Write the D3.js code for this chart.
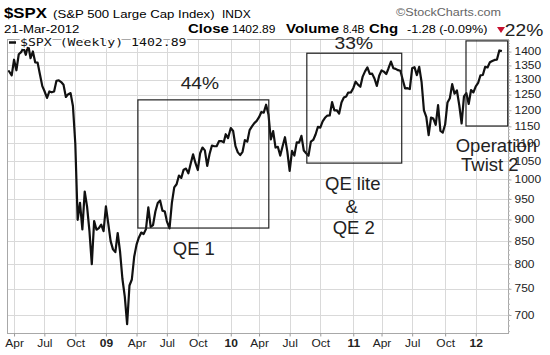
<!DOCTYPE html>
<html><head><meta charset="utf-8">
<script src="https://cdn.jsdelivr.net/npm/d3@7/dist/d3.min.js"></script>
<style>body{margin:0;background:#fff}svg{display:block}</style>
</head><body>
<svg id="chart" width="550" height="355"></svg>
<script>
// ---------- DATA ----------
const weeks2008 = ["2008-03-20","2008-03-28","2008-04-04","2008-04-11","2008-04-18","2008-04-25","2008-05-02","2008-05-09","2008-05-16","2008-05-23","2008-05-30","2008-06-06","2008-06-13","2008-06-20","2008-06-27","2008-07-03","2008-07-11","2008-07-18","2008-07-25","2008-08-01","2008-08-08","2008-08-15","2008-08-22","2008-08-29","2008-09-05","2008-09-12","2008-09-19","2008-09-26","2008-10-03","2008-10-10","2008-10-17","2008-10-24","2008-10-31","2008-11-07","2008-11-14","2008-11-21","2008-11-28","2008-12-05","2008-12-12","2008-12-19","2008-12-26"];
const closes2008 = [1329.51,1315.22,1370.40,1332.83,1390.33,1397.84,1413.90,1388.28,1425.35,1375.93,1400.38,1360.68,1360.03,1317.93,1278.38,1262.90,1239.49,1260.68,1257.76,1260.31,1296.32,1298.20,1292.20,1282.83,1242.31,1251.70,1255.08,1213.27,1099.23,899.22,940.55,876.77,968.75,930.99,873.29,800.03,896.24,876.07,879.73,887.88,872.80];
const weeks2009 = ["2009-01-02","2009-01-09","2009-01-16","2009-01-23","2009-01-30","2009-02-06","2009-02-13","2009-02-20","2009-02-27","2009-03-06","2009-03-13","2009-03-20","2009-03-27","2009-04-03","2009-04-09","2009-04-17","2009-04-24","2009-05-01","2009-05-08","2009-05-15","2009-05-22","2009-05-29","2009-06-05","2009-06-12","2009-06-19","2009-06-26","2009-07-02","2009-07-10","2009-07-17","2009-07-24","2009-07-31","2009-08-07","2009-08-14","2009-08-21","2009-08-28","2009-09-04","2009-09-11","2009-09-18","2009-09-25","2009-10-02","2009-10-09","2009-10-16","2009-10-23","2009-10-30","2009-11-06","2009-11-13","2009-11-20","2009-11-27","2009-12-04","2009-12-11","2009-12-18","2009-12-24","2009-12-31"];
const closes2009 = [931.80,890.35,850.12,831.95,825.88,868.60,826.84,770.05,735.09,683.38,756.55,768.54,815.94,842.50,856.56,869.60,866.23,877.52,929.23,882.88,887.00,919.14,940.09,946.21,921.23,918.90,896.42,879.13,940.38,979.26,987.48,1010.48,1004.09,1026.13,1028.93,1016.40,1042.73,1068.30,1044.38,1025.21,1071.49,1087.68,1079.60,1036.19,1069.30,1093.48,1091.38,1091.49,1105.98,1106.41,1102.47,1126.48,1115.10];
const weeks2010 = ["2010-01-08","2010-01-15","2010-01-22","2010-01-29","2010-02-05","2010-02-12","2010-02-19","2010-02-26","2010-03-05","2010-03-12","2010-03-19","2010-03-26","2010-04-02","2010-04-09","2010-04-16","2010-04-23","2010-04-30","2010-05-07","2010-05-14","2010-05-21","2010-05-28","2010-06-04","2010-06-11","2010-06-18","2010-06-25","2010-07-02","2010-07-09","2010-07-16","2010-07-23","2010-07-30","2010-08-06","2010-08-13","2010-08-20","2010-08-27","2010-09-03","2010-09-10","2010-09-17","2010-09-24","2010-10-01","2010-10-08","2010-10-15","2010-10-22","2010-10-29","2010-11-05","2010-11-12","2010-11-19","2010-11-26","2010-12-03","2010-12-10","2010-12-17","2010-12-23","2010-12-31"];
const closes2010 = [1144.98,1136.03,1091.76,1073.87,1066.19,1075.51,1109.17,1104.49,1138.70,1149.99,1159.90,1166.59,1178.10,1194.37,1192.13,1217.28,1186.69,1110.88,1135.68,1087.69,1089.41,1064.88,1091.60,1117.51,1076.76,1022.58,1077.96,1064.88,1102.66,1101.60,1121.64,1079.25,1071.69,1064.59,1104.51,1109.55,1125.59,1148.67,1146.24,1165.15,1176.19,1183.08,1183.26,1225.85,1199.21,1199.73,1189.40,1224.71,1240.40,1243.91,1256.77,1257.64];
const weeks2011 = ["2011-01-07","2011-01-14","2011-01-21","2011-01-28","2011-02-04","2011-02-11","2011-02-18","2011-02-25","2011-03-04","2011-03-11","2011-03-18","2011-03-25","2011-04-01","2011-04-08","2011-04-15","2011-04-21","2011-04-29","2011-05-06","2011-05-13","2011-05-20","2011-05-27","2011-06-03","2011-06-10","2011-06-17","2011-06-24","2011-07-01","2011-07-08","2011-07-15","2011-07-22","2011-07-29","2011-08-05","2011-08-12","2011-08-19","2011-08-26","2011-09-02","2011-09-09","2011-09-16","2011-09-23","2011-09-30","2011-10-07","2011-10-14","2011-10-21","2011-10-28","2011-11-04","2011-11-11","2011-11-18","2011-11-25","2011-12-02","2011-12-09","2011-12-16","2011-12-23","2011-12-30"];
const closes2011 = [1271.50,1293.24,1283.35,1276.34,1310.87,1329.15,1343.01,1319.88,1321.15,1304.28,1279.20,1313.80,1332.41,1328.17,1319.68,1337.38,1363.61,1340.20,1337.77,1333.27,1331.10,1300.16,1270.98,1271.50,1268.45,1339.67,1343.80,1316.14,1345.02,1292.28,1199.38,1178.81,1123.53,1176.80,1173.97,1154.23,1216.01,1136.43,1131.42,1155.46,1224.58,1238.25,1285.09,1253.23,1263.85,1215.65,1158.67,1244.28,1255.19,1219.66,1265.33,1257.60];
const weeks2012 = ["2012-01-06","2012-01-13","2012-01-20","2012-01-27","2012-02-03","2012-02-10","2012-02-17","2012-02-24","2012-03-02","2012-03-09","2012-03-16","2012-03-21"];
const closes2012 = [1277.81,1289.09,1315.38,1316.33,1344.90,1342.64,1361.23,1365.74,1369.63,1370.87,1404.17,1402.89];

const yTickValues = [700,750,800,850,900,950,1000,1050,1100,1150,1200,1250,1300,1350,1400];
const xTickMonths = ["2008-04","2008-07","2008-10","2009-01","2009-04","2009-07","2009-10","2010-01","2010-04","2010-07","2010-10","2011-01","2011-04","2011-07","2011-10","2012-01"];
const xTickLabels = ["Apr","Jul","Oct","09","Apr","Jul","Oct","10","Apr","Jul","Oct","11","Apr","Jul","Oct","12"];

// annotation boxes in data space: [startDate, endDate, lowValue, highValue]
const boxExtents = [["2009-04-07","2010-05-01",880,1233],["2010-08-22","2011-05-31",1044,1394],["2011-12-08","2012-04-10",1151,1440]];
const boxGains = ["44%","33%","22%"];
const boxNotes = [["QE 1"],["QE lite","&","QE 2"],["Operation","Twist 2"]];

// ---------- SETUP ----------
const parse = d3.timeParse("%Y-%m-%d");
const weekStrings = [...weeks2008,...weeks2009,...weeks2010,...weeks2011,...weeks2012];
const closes = [...closes2008,...closes2009,...closes2010,...closes2011,...closes2012];
const data = weekStrings.map((s,i)=>({date:parse(s), value:closes[i]}));

const svg = d3.select("#chart");
const P = {left:7, right:508, top:39, bottom:333};
const SX = 1.2; // horizontal stretch of chart texts
const sans = "'Liberation Sans', Arial, sans-serif";

const x = d3.scaleTime().domain([parse("2008-03-20"), parse("2012-03-21")]).range([9, 501]);
const y = d3.scaleLog().domain([700,1400]).range([315, 51.6]);

const monthKey = d3.timeFormat("%Y-%m");
const tickDates = xTickMonths.map(m => data.find(d => monthKey(d.date) === m).date);

svg.append("defs").append("clipPath").attr("id","plotclip")
  .append("rect").attr("x",P.left).attr("y",P.top).attr("width",P.right-P.left).attr("height",P.bottom-P.top);

// gridlines
const grid = svg.append("g").attr("stroke","#d9d9d9").attr("stroke-width",1).attr("shape-rendering","crispEdges");
grid.selectAll(".h").data(yTickValues).join("line")
  .attr("x1",P.left).attr("x2",P.right).attr("y1",d=>Math.round(y(d))+0.5).attr("y2",d=>Math.round(y(d))+0.5);
grid.selectAll(".v").data(tickDates).join("line")
  .attr("y1",P.top).attr("y2",P.bottom).attr("x1",d=>Math.round(x(d))+0.5).attr("x2",d=>Math.round(x(d))+0.5);

// frame
svg.append("rect").attr("x",P.left+0.5).attr("y",P.top+0.5).attr("width",P.right-P.left).attr("height",P.bottom-P.top)
  .attr("fill","none").attr("stroke","#a8a8a8").attr("stroke-width",1);

// right axis
const yAxis = svg.append("g").attr("transform",`translate(${P.right+0.5},0)`)
  .call(d3.axisRight(y).tickValues(yTickValues).tickFormat(d3.format("d")).tickSize(3).tickPadding(2));
yAxis.select(".domain").remove();
yAxis.selectAll("line").attr("stroke","#aaa");
yAxis.selectAll("text").attr("font-family",sans).attr("font-size",10).attr("fill","#222")
  .attr("transform",`scale(${SX},1)`);
// minor ticks on right axis
svg.append("g").attr("stroke","#bbb").selectAll("line").data(d3.range(670,1450,10)).join("line")
  .attr("x1",P.right).attr("x2",P.right+2).attr("y1",d=>y(d)).attr("y2",d=>y(d));

// bottom axis
const xAxis = svg.append("g").attr("transform",`translate(0,${P.bottom+0.5})`)
  .call(d3.axisBottom(x).tickValues(tickDates).tickFormat((d,i)=>xTickLabels[i]).tickSize(3).tickPadding(3));
xAxis.select(".domain").remove();
xAxis.selectAll("line").attr("stroke","#999");
xAxis.selectAll("text").attr("font-family",sans).attr("font-size",10).attr("fill","#222")
  .attr("font-weight",(d,i)=>/^\d+$/.test(xTickLabels[i])?"bold":"normal")
  .attr("transform",`scale(${SX},1)`);

// price line
const line = d3.line().x(d=>x(d.date)).y(d=>y(d.value));
svg.append("path").datum(data).attr("clip-path","url(#plotclip)")
  .attr("d",line).attr("fill","none").attr("stroke","#111").attr("stroke-width",2.2)
  .attr("stroke-linejoin","round").attr("stroke-linecap","round");

// legend
svg.append("line").attr("x1",9).attr("x2",16).attr("y1",42.5).attr("y2",42.5).attr("stroke","#111").attr("stroke-width",2.5);
svg.append("text").attr("transform",`translate(20,46) scale(${SX},1)`)
  .attr("font-family","'DejaVu Sans Mono', monospace").attr("font-size",11).attr("fill","#111")
  .attr("stroke","#fff").attr("stroke-width",3).attr("paint-order","stroke")
  .text("$SPX (Weekly) 1402.89");

// header
function htext(str, xx, yy, size, weight, color, sx){
  svg.append("text").attr("transform",`translate(${xx},${yy}) scale(${sx},1)`)
    .attr("font-family",sans).attr("font-size",size).attr("font-weight",weight).attr("fill",color).text(str);
}
htext("$SPX",4,18,14,"bold","#000",SX);
htext("(S&P 500 Large Cap Index)",53,18,11,"normal","#000",SX);
htext("INDX",222,18,10,"normal","#000",SX);
htext("\u00A9StockCharts.com",396,16,10.5,"normal","#666",SX);
htext("21-Mar-2012",4,33,11,"normal","#000",SX);
htext("Close",188,33,12.5,"bold","#000",SX);
htext("1402.89",232,33,10,"normal","#000",SX);
htext("Volume",286,33,12.5,"bold","#000",SX);
htext("8.4B",343,33,10.5,"normal","#000",1.0);
htext("Chg",369,33,12.5,"bold","#000",SX);
htext("-1.28 (-0.09%)",407,33,10.5,"normal","#000",SX);
svg.append("path").attr("d","M497,27L505,27L501,33Z").attr("fill","#c8102e");

// annotation boxes
const boxes = boxExtents.map(b=>({x0:x(parse(b[0])), x1:x(parse(b[1])), y0:y(b[3]), y1:y(b[2])}));
svg.append("g").selectAll("rect").data(boxes).join("rect")
  .attr("x",d=>d.x0).attr("y",d=>d.y0).attr("width",d=>d.x1-d.x0).attr("height",d=>d.y1-d.y0)
  .attr("fill","none").attr("stroke","#222").attr("stroke-width",1.2);

// gain labels (stretched like the chart text)
const gainOffsets = [[-3.5,-11,"middle"],[-0.5,-4,"middle"],[18,-5,"start"]];
boxes.forEach((b,i)=>{
  const cx = (b.x0+b.x1)/2 + gainOffsets[i][0];
  svg.append("text").attr("transform",`translate(${cx},${b.y0+gainOffsets[i][1]}) scale(${SX},1)`)
    .attr("text-anchor",gainOffsets[i][2]).attr("font-family",sans).attr("font-size",16).attr("fill","#222")
    .text(boxGains[i]);
});
// note labels
const noteOffsets = [[[-9.5,27]],[[-1.5,27],[-2.5,50],[-0.5,71]],[[9.5,26],[3,45]]];
boxes.forEach((b,i)=>{
  const cx = (b.x0+b.x1)/2;
  boxNotes[i].forEach((t,j)=>{
    svg.append("text").attr("x",cx+noteOffsets[i][j][0]).attr("y",b.y1+noteOffsets[i][j][1])
      .attr("text-anchor","middle").attr("font-family",sans).attr("font-size",18.5).attr("fill","#222")
      .text(t);
  });
});
</script>
</body></html>
